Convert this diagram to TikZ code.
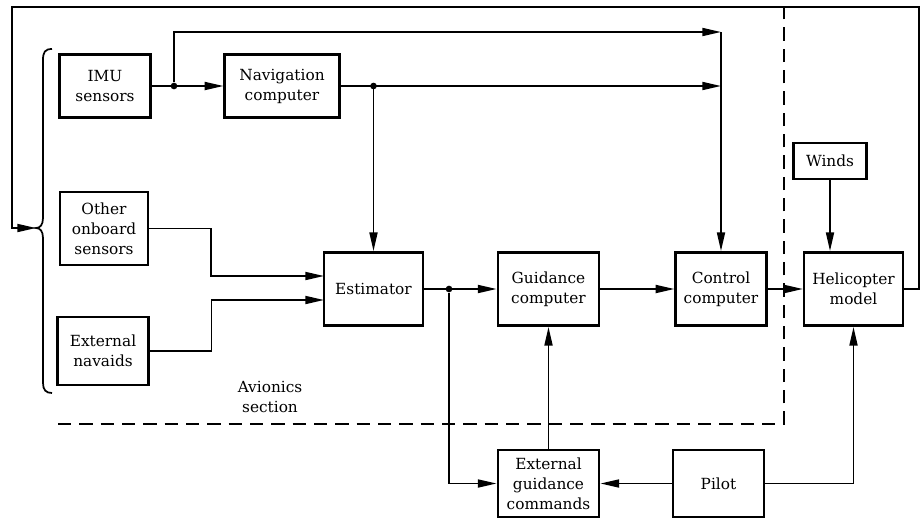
\documentclass[tikz,border=0pt]{standalone}
\usepackage{fontspec}
\setmainfont{DejaVu Serif}
\usetikzlibrary{arrows.meta}

\begin{document}
\begin{tikzpicture}[x=0.75pt, y=-0.75pt,
    blk/.style={draw, line width=1.9pt, align=center, inner sep=0pt,
      font=\fontsize{11.5}{15}\selectfont},
    wire/.style={line width=1.3pt},
    arr/.style={wire, -{Triangle[length=14pt,width=6pt]}},
    bound/.style={line width=1.5pt, dash pattern=on 10pt off 6pt},
    dot/.style={circle, fill, inner sep=0pt, minimum size=5pt}]
      \useasboundingbox (0,0) rectangle (922,522);
      % blocks
      \node[blk, minimum width=68pt, minimum height=47pt] (imu) at (105,86) {IMU\\sensors};
      \node[blk, minimum width=86pt, minimum height=47pt] (nav) at (282,86) {Navigation\\computer};
      \node[blk, minimum width=66pt, minimum height=55pt] (other) at (104,228.5) {Other\\onboard\\sensors};
      \node[blk, minimum width=68pt, minimum height=51pt] (navaids) at (103,351) {External\\navaids};
      \node[blk, minimum width=74pt, minimum height=55pt] (est) at (373.5,289) {Estimator};
      \node[blk, minimum width=76pt, minimum height=55pt] (guid) at (548.5,289) {Guidance\\computer};
      \node[blk, minimum width=68pt, minimum height=55pt] (ctrl) at (721,289) {Control\\computer};
      \node[blk, minimum width=74pt, minimum height=55pt] (heli) at (853.5,289) {Helicopter\\model};
      \node[blk, minimum width=55pt, minimum height=27pt] (winds) at (830,161) {Winds};
      \node[blk, minimum width=76pt, minimum height=50pt] (egc) at (548.5,483.5) {External\\guidance\\commands};
      \node[blk, minimum width=68pt, minimum height=50pt] (pilot) at (718.5,483.5) {Pilot};
      \node[font=\fontsize{11.5}{15}\selectfont, align=center] (avi) at (270,397) {Avionics\\section};

      % junctions and corners
      \node[dot] (j1) at (174,86) {};
      \coordinate (j2) at (est.north |- nav.east);
      \node[dot] at (j2) {};
      \node[dot] (j3) at (449,289) {};
      \coordinate (c1) at (ctrl.north |- 0,32);
      \coordinate (c2) at (ctrl.north |- nav.east);
      \coordinate (fbR) at (919,7);
      \coordinate (fbL) at (12,7);
      \coordinate (tip) at (36,228);
      \coordinate (in1) at (324,276);
      \coordinate (in2) at (324,300);

      % sensor brace
      \draw[wire] (52,49) .. controls (45,49) and (43,52) .. (43,60) -- (43,218)
        .. controls (43,225) and (40,228) .. (tip)
        .. controls (40,228) and (43,231) .. (43,238) -- (43,383)
        .. controls (43,390) and (46,393) .. (52,393);

      % signal flow
      \draw[arr] (imu.east) -- (nav.west);
      \draw[arr] (j1) |- (c1);
      \draw[arr] (c1) -- (ctrl.north);
      \draw[arr] (nav.east) -- (c2);
      \draw[arr] (j2) -- (est.north);
      \draw[arr] (other.east) -- ++(62,0) |- (in1);
      \draw[arr] (navaids.east) -- ++(62,0) |- (in2);
      \draw[arr] (est.east) -- (guid.west);
      \draw[arr] (j3) |- (egc.west);
      \draw[arr] (guid.east) -- (ctrl.west);
      \draw[arr] (ctrl.east) -- (heli.west);
      \draw[arr] (winds.south) -- (winds.south |- heli.north);
      \draw[arr] (egc.north) -- (guid.south);
      \draw[arr] (pilot.west) -- (egc.east);
      \draw[arr] (pilot.east) -| (heli.south);
      \draw[arr] (heli.east) -| (fbR) -- (fbL) |- (tip);

      % avionics boundary
      \draw[bound] (58,424) -| (784,0);
\end{tikzpicture}
\end{document}
